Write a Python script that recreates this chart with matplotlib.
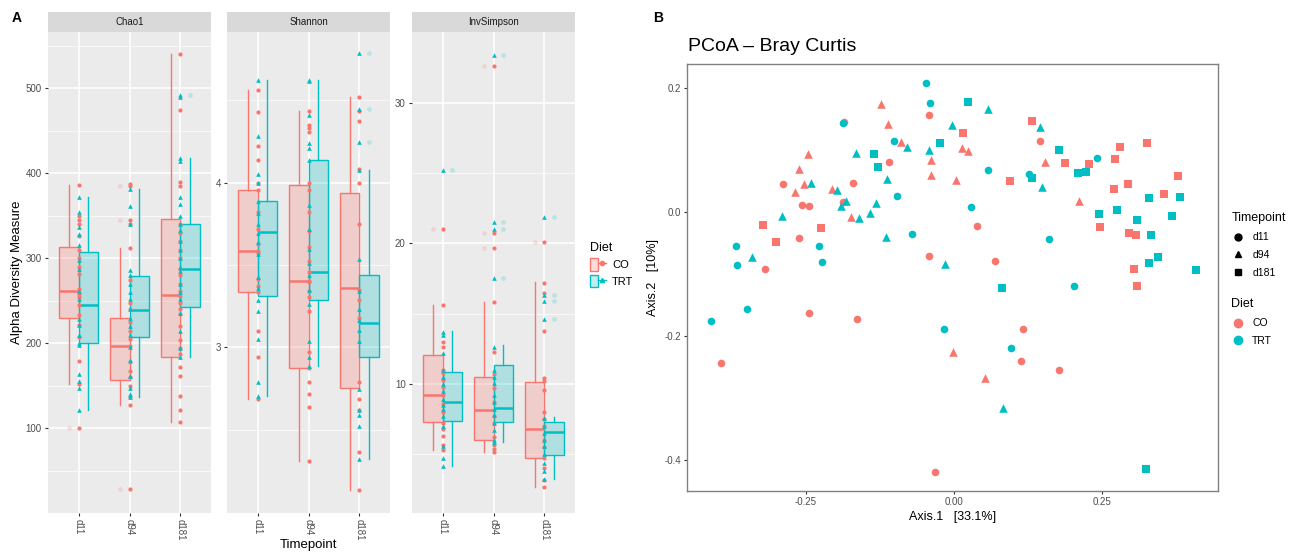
import matplotlib.pyplot as plt
from matplotlib.lines import Line2D
from matplotlib.patches import Patch
from matplotlib.legend_handler import HandlerTuple
from matplotlib.colors import to_rgba

plt.rcParams['font.family'] = ['Liberation Sans', 'DejaVu Sans']

CO_COL = '#F8766D'
TRT_COL = '#00BFC4'
W, H = 1290, 553

timepoints = ['d11', 'd94', 'd181']

# ---- panel A data: box stats (whislo, q1, med, q3, whishi) per timepoint ----
chao1_co_box = [(152, 230, 262, 313, 386), (128, 157, 197, 230, 312), (107, 184, 257, 346, 540)]
chao1_trt_box = [(121, 200, 245, 307, 372), (137, 207, 239, 279, 382), (184, 243, 288, 340, 418)]
chao1_co_out = [[100], [385, 345, 28], []]
chao1_trt_out = [[], [], [492]]
chao1_co_pts = [
    [386, 350, 345, 340, 326, 310, 300, 290, 281, 264, 258, 254, 245, 233, 221, 208, 179, 152, 100],
    [388, 385, 345, 340, 312, 275, 248, 240, 225, 215, 205, 197, 178, 168, 160, 150, 137, 128, 28],
    [540, 475, 390, 385, 340, 330, 320, 310, 300, 288, 280, 270, 262, 256, 248, 240, 234, 220, 204,
     194, 188, 172, 162, 138, 122, 107],
]
chao1_trt_pts = [
    [372, 354, 337, 329, 316, 298, 287, 262, 252, 229, 221, 210, 200, 198, 164, 156, 148, 121],
    [382, 362, 340, 286, 280, 270, 260, 252, 240, 230, 220, 210, 196, 180, 162, 148, 140, 137],
    [492, 490, 418, 415, 372, 364, 350, 340, 333, 320, 310, 300, 290, 285, 270, 260, 252, 236, 215, 194, 184],
]

shannon_co_box = [(2.684, 3.333, 3.583, 3.953, 4.566), (2.31, 2.877, 3.40, 3.985, 4.437), (2.135, 2.753, 3.361, 3.94, 4.523)]
shannon_trt_box = [(2.705, 3.312, 3.699, 3.888, 4.624), (2.888, 3.29, 3.458, 4.135, 4.624), (2.323, 2.938, 3.146, 3.437, 4.08)]
shannon_co_out = [[], [], []]
shannon_trt_out = [[], [], [4.79, 4.447, 4.247]]
shannon_co_pts = [
    [4.566, 4.43, 4.22, 4.135, 3.996, 3.953, 3.82, 3.72, 3.63, 3.583, 3.57, 3.415, 3.37, 3.333, 3.1, 2.94, 2.684],
    [4.437, 4.35, 4.33, 4.31, 3.996, 3.953, 3.82, 3.705, 3.609, 3.523, 3.458, 3.40, 3.394, 3.34, 3.308, 3.221,
     2.974, 2.877, 2.79, 2.716, 2.64, 2.31],
    [4.523, 4.437, 4.372, 4.086, 4.0, 3.748, 3.35, 3.286, 3.178, 2.79, 2.684, 2.619, 2.361, 2.135],
]
shannon_trt_pts = [
    [4.624, 4.286, 4.054, 3.996, 3.888, 3.813, 3.748, 3.695, 3.64, 3.566, 3.426, 3.361, 3.286, 3.22, 3.049, 2.79, 2.705],
    [4.624, 4.62, 4.41, 4.243, 4.21, 4.135, 3.867, 3.716, 3.598, 3.512, 3.437, 3.351, 3.265, 3.039, 2.942, 2.888],
    [4.79, 4.447, 4.247, 4.08, 3.537, 3.34, 3.232, 3.168, 3.103, 3.039, 2.748, 2.619, 2.587, 2.523, 2.323],
]

invs_co_box = [(5.3, 7.31, 9.2, 12.07, 15.6), (5.19, 6.01, 8.18, 10.5, 15.85), (2.65, 4.77, 6.81, 10.12, 17.22)]
invs_trt_box = [(4.15, 7.38, 8.7, 10.87, 13.74), (5.89, 7.31, 8.26, 11.37, 12.74), (3.28, 4.94, 6.56, 7.33, 7.68)]
invs_co_out = [[21.0], [32.6, 20.7, 19.7], [20.1]]
invs_trt_out = [[25.2], [33.4, 21.5, 21.0, 17.5], [21.9, 16.3, 15.9, 14.6]]
invs_co_pts = [
    [21.0, 15.6, 13.0, 12.6, 11.0, 10.8, 10.3, 9.8, 9.2, 8.6, 8.0, 7.2, 6.8, 6.3, 5.64, 5.3],
    [32.6, 20.7, 19.7, 15.85, 12.3, 10.7, 9.75, 8.75, 7.75, 7.26, 6.26, 5.64, 5.4, 5.19],
    [20.1, 17.2, 16.5, 13.8, 10.4, 10.2, 9.6, 8.0, 7.5, 7.0, 6.0, 5.5, 4.77, 4.0, 3.15, 2.65],
]
invs_trt_pts = [
    [25.2, 13.7, 13.5, 12.2, 11.0, 10.5, 10.0, 9.5, 8.9, 8.5, 8.2, 7.7, 7.0, 5.6, 4.77, 4.15],
    [33.4, 21.5, 21.0, 17.5, 12.6, 11.0, 10.5, 10.1, 9.2, 8.7, 8.2, 7.8, 7.2, 6.7, 6.0, 5.89],
    [21.9, 16.3, 15.9, 14.6, 7.6, 7.0, 6.5, 6.0, 5.6, 5.0, 4.4, 3.8, 3.28],
]

# ---- panel B data: PCoA coordinates ----
pc_x = [-0.047, -0.041, -0.042, -0.123, -0.111, -0.188, -0.186, -0.003, 0.015, -0.102,
        -0.090, -0.080, -0.043, -0.024, 0.0135, 0.024, -0.247, -0.166, -0.135, -0.109,
        -0.039, -0.129, -0.261, -0.038, -0.113, 0.003, -0.288, -0.253, -0.242, -0.171,
        -0.269, -0.206, -0.198, -0.097, -0.257, -0.245, -0.188, -0.182, -0.191, -0.131,
        0.028, -0.291, -0.174, -0.160, -0.142, -0.323, -0.225, -0.301, -0.262, -0.115,
        -0.071, -0.369, -0.228, -0.342, -0.367, -0.223, -0.319, -0.043, -0.015, 0.024,
        0.057, 0.131, 0.145, 0.146, 0.177, 0.153, 0.187, 0.228, 0.242, 0.280,
        0.326, 0.272, 0.058, 0.095, 0.127, 0.132, 0.148, 0.209, 0.223, 0.271,
        0.294, 0.211, 0.378, 0.330, 0.355, 0.381, 0.039, 0.245, 0.275, 0.310,
        0.246, 0.369, 0.295, 0.307, 0.333, 0.161, 0.070, 0.304, 0.329, 0.345,
        0.408, 0.081, 0.202, 0.309, -0.410, -0.350, -0.245, -0.164, -0.017, -0.001,
        -0.393, -0.032, 0.117, 0.097, 0.113, 0.178, 0.053, 0.083, 0.325]
pc_y = [0.209, 0.176, 0.157, 0.175, 0.142, 0.143, 0.146, 0.140, 0.127, 0.114,
        0.113, 0.105, 0.101, 0.111, 0.104, 0.098, 0.094, 0.095, 0.094, 0.081,
        0.084, 0.073, 0.069, 0.060, 0.054, 0.052, 0.046, 0.046, 0.047, 0.047,
        0.033, 0.038, 0.035, 0.026, 0.011, 0.010, 0.016, 0.018, 0.010, 0.014,
        0.008, -0.006, -0.008, -0.009, -0.002, -0.021, -0.025, -0.049, -0.041, -0.040,
        -0.036, -0.055, -0.054, -0.073, -0.086, -0.081, -0.092, -0.071, -0.083, 0.178,
        0.167, 0.147, 0.138, 0.115, 0.100, 0.081, 0.080, 0.077, 0.087, 0.105,
        0.111, 0.085, 0.068, 0.051, 0.062, 0.055, 0.041, 0.063, 0.065, 0.037,
        0.045, 0.018, 0.058, 0.022, 0.029, 0.025, -0.022, -0.003, 0.003, -0.013,
        -0.024, -0.006, -0.033, -0.037, -0.037, -0.044, -0.079, -0.091, -0.082, -0.072,
        -0.094, -0.123, -0.119, -0.119, -0.175, -0.157, -0.162, -0.172, -0.189, -0.225,
        -0.244, -0.419, -0.189, -0.219, -0.240, -0.255, -0.267, -0.316, -0.415]
pc_diet = ['TRT', 'TRT', 'CO', 'CO', 'CO', 'TRT', 'CO', 'TRT', 'CO', 'TRT',
           'CO', 'TRT', 'TRT', 'TRT', 'CO', 'CO', 'CO', 'TRT', 'TRT', 'CO',
           'CO', 'TRT', 'CO', 'CO', 'TRT', 'CO', 'CO', 'CO', 'TRT', 'CO',
           'CO', 'CO', 'TRT', 'TRT', 'CO', 'CO', 'CO', 'TRT', 'TRT', 'TRT',
           'TRT', 'TRT', 'CO', 'TRT', 'TRT', 'CO', 'CO', 'CO', 'CO', 'TRT',
           'TRT', 'TRT', 'TRT', 'TRT', 'TRT', 'TRT', 'CO', 'CO', 'TRT', 'TRT',
           'TRT', 'CO', 'TRT', 'CO', 'TRT', 'CO', 'CO', 'CO', 'TRT', 'CO',
           'CO', 'CO', 'TRT', 'CO', 'TRT', 'TRT', 'TRT', 'TRT', 'TRT', 'CO',
           'CO', 'CO', 'CO', 'TRT', 'CO', 'TRT', 'CO', 'TRT', 'TRT', 'TRT',
           'CO', 'TRT', 'CO', 'CO', 'TRT', 'TRT', 'CO', 'CO', 'TRT', 'TRT',
           'TRT', 'TRT', 'TRT', 'CO', 'TRT', 'TRT', 'CO', 'CO', 'TRT', 'CO',
           'CO', 'CO', 'CO', 'TRT', 'CO', 'CO', 'CO', 'TRT', 'TRT']
pc_time = ['d11', 'd11', 'd11', 'd94', 'd94', 'd11', 'd11', 'd94', 'd181', 'd11',
           'd94', 'd94', 'd94', 'd181', 'd94', 'd94', 'd94', 'd94', 'd181', 'd11',
           'd94', 'd181', 'd94', 'd94', 'd94', 'd94', 'd11', 'd94', 'd94', 'd11',
           'd94', 'd94', 'd94', 'd11', 'd11', 'd11', 'd11', 'd94', 'd94', 'd94',
           'd11', 'd94', 'd94', 'd94', 'd94', 'd181', 'd181', 'd181', 'd11', 'd94',
           'd11', 'd11', 'd11', 'd94', 'd11', 'd11', 'd11', 'd11', 'd94', 'd181',
           'd94', 'd181', 'd94', 'd11', 'd181', 'd94', 'd181', 'd181', 'd11', 'd181',
           'd181', 'd181', 'd11', 'd181', 'd11', 'd181', 'd94', 'd181', 'd181', 'd181',
           'd181', 'd94', 'd181', 'd181', 'd181', 'd181', 'd11', 'd181', 'd181', 'd181',
           'd181', 'd181', 'd181', 'd181', 'd181', 'd11', 'd11', 'd181', 'd181', 'd181',
           'd181', 'd181', 'd11', 'd181', 'd11', 'd11', 'd11', 'd11', 'd11', 'd94',
           'd11', 'd11', 'd11', 'd11', 'd11', 'd11', 'd94', 'd94', 'd181']

fig = plt.figure(figsize=(12.9, 5.53), dpi=100)


def fax(l, t, r, b):
    return fig.add_axes([l / W, 1 - b / H, (r - l) / W, (b - t) / H])


facets = [
    ('Chao1', 48, (0.7, 566.4), [100, 200, 300, 400, 500], [50, 150, 250, 350, 450, 550],
     chao1_co_box, chao1_trt_box, chao1_co_out, chao1_trt_out, chao1_co_pts, chao1_trt_pts),
    ('Shannon', 227, (1.995, 4.916), [3, 4], [2.5, 3.5, 4.5],
     shannon_co_box, shannon_trt_box, shannon_co_out, shannon_trt_out, shannon_co_pts, shannon_trt_pts),
    ('InvSimpson', 412, (0.85, 35.03), [10, 20, 30], [5, 15, 25],
     invs_co_box, invs_trt_box, invs_co_out, invs_trt_out, invs_co_pts, invs_trt_pts),
]

for (name, left, ylim, major, minor, co_box, trt_box, co_out, trt_out, co_pts, trt_pts) in facets:
    ax = fax(left, 31.9, left + 163, 512.7)
    ax.set_facecolor('#EBEBEB')
    for s in ax.spines.values():
        s.set_visible(False)

    for boxes, outs, pts, col, off, mk in [(co_box, co_out, co_pts, CO_COL, -0.1875, 'o'),
                                           (trt_box, trt_out, trt_pts, TRT_COL, 0.1875, '^')]:
        stats = [dict(whislo=b[0], q1=b[1], med=b[2], q3=b[3], whishi=b[4], fliers=[]) for b in boxes]
        pos = [i + 1 + off for i in range(3)]
        ax.bxp(stats, positions=pos, widths=0.375, showcaps=False, showfliers=False,
               patch_artist=True, manage_ticks=False,
               boxprops=dict(facecolor=to_rgba(col, 0.25), edgecolor=col, lw=1),
               whiskerprops=dict(color=col, lw=1),
               medianprops=dict(color=col, lw=1.8))
        for i in range(3):
            if outs[i]:
                ax.scatter([pos[i]] * len(outs[i]), outs[i], s=12, color=col, alpha=0.2, lw=0, zorder=3)
            ax.scatter([i + 1] * len(pts[i]), pts[i], s=9 if mk == 'o' else 11, marker=mk,
                       color=col, lw=0, zorder=4)

    ax.set_xlim(0.4, 3.6)
    ax.set_ylim(*ylim)
    ax.set_yticks(major)
    ax.set_yticks(minor, minor=True)
    ax.set_xticks([1, 2, 3])
    ax.set_xticklabels(timepoints, rotation=270, fontsize=7, color='#4D4D4D')
    ax.tick_params(axis='y', labelsize=7, labelcolor='#4D4D4D')
    ax.tick_params(which='major', color='#333333', length=2.5, width=0.8, pad=2)
    ax.tick_params(which='minor', length=0)
    ax.grid(which='major', color='white', lw=1.1)
    ax.grid(which='minor', axis='y', color='white', lw=0.5)
    ax.set_axisbelow(True)

    sax = fax(left, 12, left + 163, 31.9)
    sax.set_facecolor('#D9D9D9')
    sax.set_xticks([])
    sax.set_yticks([])
    for s in sax.spines.values():
        s.set_visible(False)
    sax.text(0.5, 0.5, name, ha='center', va='center', fontsize=7, color='#1A1A1A',
             transform=sax.transAxes)

fig.text(17 / W, 1 - 272 / H, 'Alpha Diversity Measure', rotation=90, ha='center', va='center', fontsize=9.5)
fig.text(308 / W, 1 - 545 / H, 'Timepoint', ha='center', va='center', fontsize=9.5)
fig.text(12 / W, 1 - 18 / H, 'A', ha='left', va='center', fontsize=10, fontweight='bold')
fig.text(653 / W, 1 - 18 / H, 'B', ha='left', va='center', fontsize=10, fontweight='bold')

# legend panel A
hA = [(Patch(facecolor=to_rgba(c, 0.25), edgecolor=c), Line2D([], [], color=c, marker=m, ms=3, lw=1))
      for c, m in [(CO_COL, 'o'), (TRT_COL, '^')]]
fig.legend(hA, ['CO', 'TRT'], title='Diet', loc='upper left', bbox_to_anchor=(580 / W, 1 - 232 / H),
           frameon=False, fontsize=8, title_fontsize=9, handlelength=1.4, handleheight=1.3,
           handletextpad=0.6, labelspacing=0.4, alignment='left',
           handler_map={tuple: HandlerTuple(ndivide=None, pad=0)})

# ---- panel B ----
bx = fax(687, 64, 1218, 491)
bx.set_xlim(-0.451, 0.446)
bx.set_ylim(-0.45, 0.239)
markers = {'d11': ('o', 30), 'd94': ('^', 38), 'd181': ('s', 28)}
colors = {'CO': CO_COL, 'TRT': TRT_COL}
for diet in ['CO', 'TRT']:
    for tp in timepoints:
        xs = [x for x, d, t in zip(pc_x, pc_diet, pc_time) if d == diet and t == tp]
        ys = [y for y, d, t in zip(pc_y, pc_diet, pc_time) if d == diet and t == tp]
        bx.scatter(xs, ys, marker=markers[tp][0], s=markers[tp][1], color=colors[diet], lw=0, zorder=3)
bx.set_xticks([-0.25, 0.0, 0.25])
bx.set_xticklabels(['-0.25', '0.00', '0.25'])
bx.set_yticks([-0.4, -0.2, 0.0, 0.2])
bx.set_yticklabels(['-0.4', '-0.2', '0.0', '0.2'])
bx.tick_params(labelsize=7, labelcolor='#4D4D4D', color='#333333', length=2.5, width=0.8, pad=2)
for s in bx.spines.values():
    s.set_color('#808080')
    s.set_linewidth(1)
bx.set_xlabel('Axis.1   [33.1%]', fontsize=9, labelpad=3)
bx.set_ylabel('Axis.2   [10%]', fontsize=9, labelpad=4)
fig.text(688 / W, 1 - 47 / H, 'PCoA \u2013 Bray Curtis', ha='left', va='center', fontsize=14)

hT = [Line2D([], [], ls='', marker=markers[t][0], color='black', ms=5) for t in timepoints]
fig.legend(hT, timepoints, title='Timepoint', loc='upper left', bbox_to_anchor=(1222 / W, 1 - 203 / H),
           frameon=False, fontsize=7.5, title_fontsize=9, handlelength=1.2, handletextpad=0.8,
           labelspacing=0.75, alignment='left')
hD = [Line2D([], [], ls='', marker='o', color=colors[d], ms=6) for d in ['CO', 'TRT']]
fig.legend(hD, ['CO', 'TRT'], title='Diet', loc='upper left', bbox_to_anchor=(1222 / W, 1 - 289 / H),
           frameon=False, fontsize=7.5, title_fontsize=9, handlelength=1.2, handletextpad=0.8,
           labelspacing=0.75, alignment='left')

fig.savefig('out.png', dpi=100)
